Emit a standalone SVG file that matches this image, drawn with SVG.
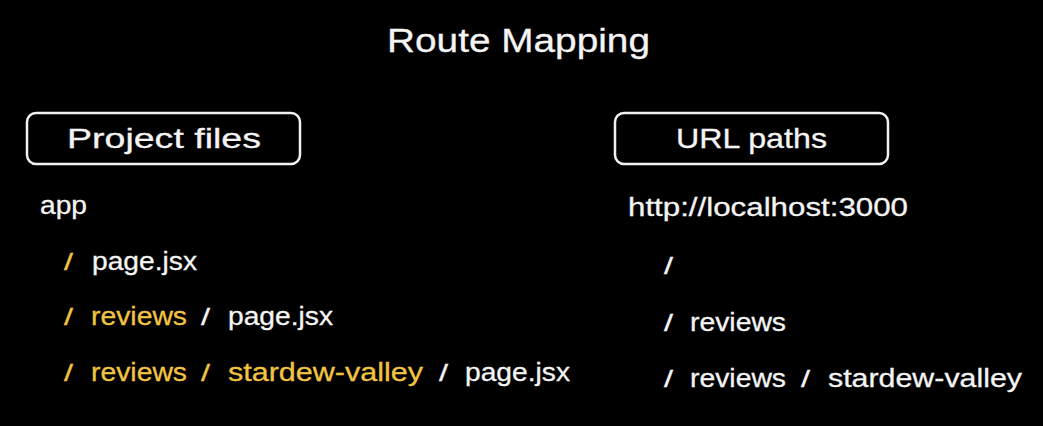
<svg xmlns="http://www.w3.org/2000/svg" width="1043" height="426" viewBox="0 0 1043 426">
  <style>
    text { font-family: "Liberation Sans", Arial, sans-serif; fill: #f4f4f4; stroke: #f4f4f4; stroke-width: 0.3; }
    .title { font-size: 33px; }
    .head { font-size: 28px; }
    .item { font-size: 26px; }
    .sl { font-size: 24px; }
    .hl { fill: #f2c443; stroke: #f2c443; }
    .box { fill: none; stroke: #f2f2f2; stroke-width: 2.5; }
  </style>
  <rect width="1043" height="426" fill="#000"/>

  <text class="title" x="387" y="52" textLength="263" lengthAdjust="spacingAndGlyphs">Route Mapping</text>

  <g id="project-files-header">
    <rect class="box" x="27" y="113" width="273" height="51" rx="9"/>
    <text class="head" x="67" y="148" textLength="194" lengthAdjust="spacingAndGlyphs">Project files</text>
  </g>

  <g id="url-paths-header">
    <rect class="box" x="615" y="113" width="273" height="51" rx="9"/>
    <text class="head" x="676" y="148" textLength="151" lengthAdjust="spacingAndGlyphs">URL paths</text>
  </g>

  <!-- file tree under app/ -->
  <g id="project-files">
    <text class="item" x="40" y="214" textLength="47" lengthAdjust="spacingAndGlyphs">app</text>

    <g id="file-root">
      <text class="sl hl" x="64" y="270" textLength="9" lengthAdjust="spacingAndGlyphs">/</text>
      <text class="item" x="92" y="270" textLength="105" lengthAdjust="spacingAndGlyphs">page.jsx</text>
    </g>

    <g id="file-reviews">
      <text class="sl hl" x="64" y="325" textLength="9" lengthAdjust="spacingAndGlyphs">/</text>
      <text class="item hl" x="91" y="325" textLength="96" lengthAdjust="spacingAndGlyphs">reviews</text>
      <text class="sl" x="201" y="325" textLength="9" lengthAdjust="spacingAndGlyphs">/</text>
      <text class="item" x="228" y="325" textLength="105" lengthAdjust="spacingAndGlyphs">page.jsx</text>
    </g>

    <g id="file-stardew">
      <text class="sl hl" x="64" y="381" textLength="9" lengthAdjust="spacingAndGlyphs">/</text>
      <text class="item hl" x="91" y="381" textLength="96" lengthAdjust="spacingAndGlyphs">reviews</text>
      <text class="sl hl" x="201" y="381" textLength="9" lengthAdjust="spacingAndGlyphs">/</text>
      <text class="item hl" x="228" y="381" textLength="195" lengthAdjust="spacingAndGlyphs">stardew-valley</text>
      <text class="sl" x="439" y="381" textLength="9" lengthAdjust="spacingAndGlyphs">/</text>
      <text class="item" x="465" y="381" textLength="105" lengthAdjust="spacingAndGlyphs">page.jsx</text>
    </g>
  </g>

  <!-- matching browser URLs -->
  <g id="url-paths">
    <text class="item" x="628" y="216" textLength="280" lengthAdjust="spacingAndGlyphs">http://localhost:3000</text>

    <g id="url-root">
      <text class="sl" x="664" y="274" textLength="9" lengthAdjust="spacingAndGlyphs">/</text>
    </g>

    <g id="url-reviews">
      <text class="sl" x="664" y="331" textLength="9" lengthAdjust="spacingAndGlyphs">/</text>
      <text class="item" x="690" y="331" textLength="96" lengthAdjust="spacingAndGlyphs">reviews</text>
    </g>

    <g id="url-stardew">
      <text class="sl" x="664" y="387" textLength="9" lengthAdjust="spacingAndGlyphs">/</text>
      <text class="item" x="690" y="387" textLength="96" lengthAdjust="spacingAndGlyphs">reviews</text>
      <text class="sl" x="801" y="387" textLength="9" lengthAdjust="spacingAndGlyphs">/</text>
      <text class="item" x="828" y="387" textLength="194" lengthAdjust="spacingAndGlyphs">stardew-valley</text>
    </g>
  </g>
</svg>
